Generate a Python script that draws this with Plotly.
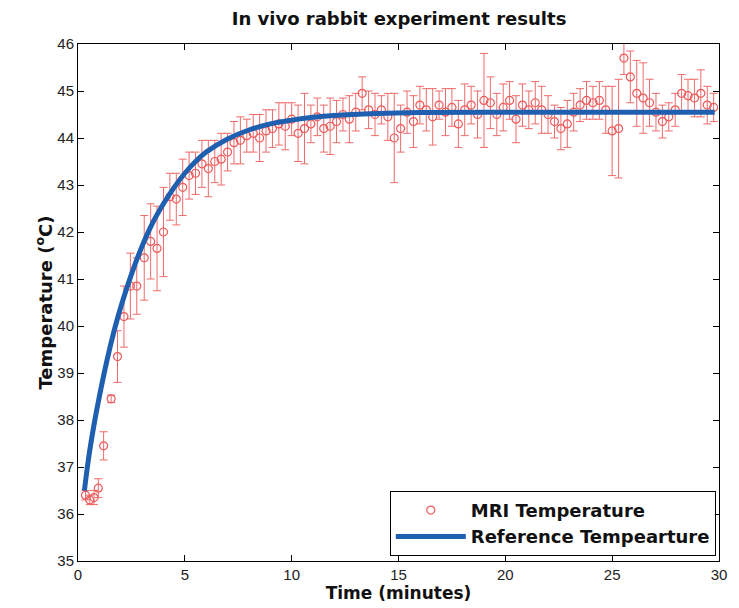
import plotly.graph_objects as go

# MRI measured temperature (time in minutes, value in degC, error half-length)
mri_time = [0.35, 0.55, 0.75, 0.95, 1.2, 1.55, 1.85, 2.15, 2.45, 2.75, 3.1, 3.4, 3.7, 4.0,
            4.3, 4.6, 4.9, 5.2, 5.5, 5.8, 6.1, 6.4, 6.7, 7.0, 7.3, 7.6, 7.9, 8.2, 8.5, 8.8,
            9.1, 9.4, 9.7, 10.0, 10.3, 10.6, 10.9, 11.2, 11.5, 11.8, 12.1, 12.4, 12.7, 13.0,
            13.3, 13.6, 13.9, 14.2, 14.5, 14.8, 15.1, 15.4, 15.7, 16.0, 16.3, 16.6, 16.9,
            17.2, 17.5, 17.8, 18.1, 18.4, 18.7, 19.0, 19.3, 19.6, 19.9, 20.2, 20.5, 20.8,
            21.1, 21.4, 21.7, 22.0, 22.3, 22.6, 22.9, 23.2, 23.5, 23.8, 24.1, 24.4, 24.7,
            25.0, 25.3, 25.55, 25.85, 26.15, 26.45, 26.75, 27.05, 27.35, 27.65, 27.95,
            28.25, 28.55, 28.85, 29.15, 29.45, 29.75]
mri_temp = [36.4, 36.3, 36.35, 36.55, 37.45, 38.45, 39.35, 40.2, 40.85, 40.85, 41.45, 41.8,
            41.65, 42.0, 42.75, 42.7, 42.95, 43.2, 43.25, 43.45, 43.35, 43.5, 43.55, 43.7,
            43.9, 43.95, 44.05, 44.1, 44.0, 44.15, 44.2, 44.3, 44.25, 44.4, 44.1, 44.2, 44.3,
            44.45, 44.2, 44.25, 44.35, 44.5, 44.4, 44.55, 44.95, 44.6, 44.5, 44.6, 44.45,
            44.0, 44.2, 44.55, 44.35, 44.7, 44.6, 44.45, 44.7, 44.55, 44.65, 44.3, 44.6,
            44.7, 44.5, 44.8, 44.75, 44.5, 44.65, 44.8, 44.4, 44.7, 44.6, 44.75, 44.6, 44.5,
            44.35, 44.2, 44.3, 44.55, 44.7, 44.8, 44.75, 44.8, 44.6, 44.15, 44.2, 45.7, 45.3,
            44.95, 44.85, 44.75, 44.55, 44.35, 44.45, 44.6, 44.95, 44.9, 44.85, 44.95, 44.7,
            44.65]
mri_err = [0.1, 0.1, 0.15, 0.2, 0.3, 0.08, 0.55, 0.65, 0.7, 0.6, 0.9, 0.8, 0.9, 0.95, 0.5,
           0.55, 0.6, 0.5, 0.45, 0.5, 0.6, 0.45, 0.55, 0.4, 0.45, 0.5, 0.35, 0.4, 0.5, 0.45,
           0.4, 0.45, 0.5, 0.35, 0.6, 0.75, 0.4, 0.4, 0.5, 0.6, 0.45, 0.35, 0.5, 0.4, 0.35,
           0.4, 0.45, 0.3, 0.5, 0.95, 0.5, 0.45, 0.55, 0.4, 0.45, 0.6, 0.3, 0.5, 0.4, 0.5,
           0.55, 0.4, 0.5, 1.0, 0.55, 0.45, 0.5, 0.4, 0.5, 0.45, 0.4, 0.45, 0.5, 0.4, 0.35,
           0.45, 0.5, 0.4, 0.35, 0.4, 0.35, 0.4, 0.5, 0.95, 1.05, 0.35, 0.55, 0.7, 0.75, 0.5,
           0.4, 0.35, 0.3, 0.35, 0.4, 0.35, 0.4, 0.5, 0.4, 0.3]

# Reference temperature curve
ref_time = [0.3, 0.5, 0.75, 1.0, 1.25, 1.5, 1.75, 2.0, 2.5, 3.0, 3.5, 4.0, 4.5, 5.0, 5.5,
            6.0, 7.0, 8.0, 9.0, 10.0, 11.0, 12.0, 14.0, 16.0, 20.0, 25.0, 29.8]
ref_temp = [36.5, 37.2, 37.9, 38.5, 39.05, 39.55, 40.0, 40.4, 41.1, 41.7, 42.2, 42.6, 42.95,
            43.25, 43.5, 43.7, 43.98, 44.17, 44.3, 44.38, 44.44, 44.48, 44.52, 44.54, 44.55,
            44.55, 44.55]

x_ticks = [0, 5, 10, 15, 20, 25, 30]
y_ticks = [35, 36, 37, 38, 39, 40, 41, 42, 43, 44, 45, 46]

FONT = "Liberation Sans, Arial, sans-serif"
BOLD = "DejaVu Sans, sans-serif"

fig = go.Figure()
fig.add_trace(go.Scatter(
    x=mri_time, y=mri_temp, mode="markers", name="<b>MRI Temperature</b>",
    marker=dict(symbol="circle-open", size=8, color="#ee5a5a", line=dict(width=1.2)),
    error_y=dict(type="data", array=mri_err, visible=True, color="#ee6a6a",
                 thickness=1, width=4),
))
fig.add_trace(go.Scatter(
    x=ref_time, y=ref_temp, mode="lines", name="<b>Reference Tempearture</b>",
    line=dict(color="#1f5fb0", width=5, shape="spline"),
))

axis_common = dict(showline=True, linecolor="black", linewidth=1, mirror="ticks",
                   ticks="inside", ticklen=6, tickcolor="black", showgrid=False,
                   zeroline=False, tickfont=dict(family=FONT, size=15, color="#222"))

fig.update_layout(
    width=739, height=608,
    margin=dict(l=78, r=15, t=44, b=46),
    paper_bgcolor="white", plot_bgcolor="white",
    title=dict(text="<b>In vivo rabbit experiment results</b>", x=0.54, xanchor="center",
               y=0.97, yanchor="middle", font=dict(family=BOLD, size=18, color="#111")),
    xaxis=dict(range=[0, 30], tickvals=x_ticks,
               title=dict(text="<b>Time (minutes)</b>", standoff=1,
                          font=dict(family=BOLD, size=17, color="#111")),
               **axis_common),
    yaxis=dict(range=[35, 46], tickvals=y_ticks,
               title=dict(text="<b>Temperature (<sup>o</sup>C)</b>", standoff=0,
                          font=dict(family=BOLD, size=18, color="#111")),
               **axis_common),
    legend=dict(x=0.995, y=0.01, xanchor="right", yanchor="bottom",
                bgcolor="white", bordercolor="black", borderwidth=1,
                font=dict(family=BOLD, size=18, color="#111"),
                tracegroupgap=0, itemwidth=70),
    showlegend=True,
)

fig.write_html("out.html")
